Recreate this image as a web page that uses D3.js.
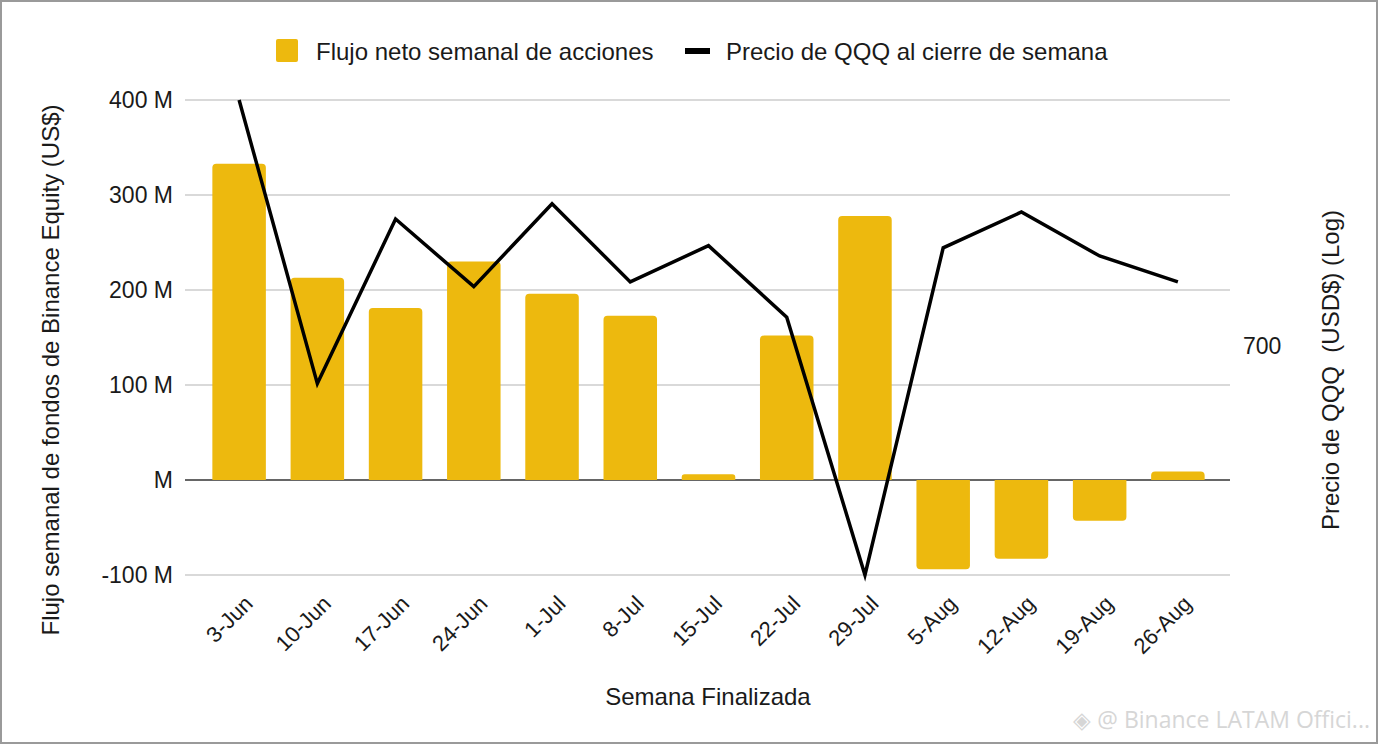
<!DOCTYPE html>
<html>
<head>
<meta charset="utf-8">
<script src="https://cdn.jsdelivr.net/npm/d3@7"></script>
<style>
  body { margin: 0; background: #fff; }
  text { font-family: "Liberation Sans", Arial, sans-serif; fill: #1a1a1a; }
</style>
</head>
<body>
<div id="chart"></div>
<script>
// datos del gráfico
const semanas = ["3-Jun", "10-Jun", "17-Jun", "24-Jun", "1-Jul", "8-Jul", "15-Jul",
                 "22-Jul", "29-Jul", "5-Aug", "12-Aug", "19-Aug", "26-Aug"];
// flujo neto semanal (millones US$)
const flujoNeto = [333, 213, 181, 230, 196, 173, 6, 152, 278, -94, -83, -43, 9];
// precio QQQ al cierre (escala log)
const precioQQQ = [1050, 658, 863, 772, 885, 778, 826, 734, 480, 823, 873, 812, 778];
const ticksIzq = [-100, 0, 100, 200, 300, 400];
const ticksDer = [700];

var W = 1378, H = 744;
var margin = { left: 200, right: 161, top: 100, bottom: 169 };

var svg = d3.select("#chart").append("svg")
  .attr("width", W).attr("height", H);

svg.append("rect")
  .attr("x", 1).attr("y", 1).attr("width", W - 2).attr("height", H - 2)
  .attr("fill", "#fff").attr("stroke", "#9a9a9a").attr("stroke-width", 2);

var x = d3.scaleBand()
  .domain(semanas)
  .range([margin.left, W - margin.right])
  .paddingInner(0.316)
  .paddingOuter(0.158);

var y = d3.scaleLinear()
  .domain([-100, 400])
  .range([H - margin.bottom, margin.top]);

var yLog = d3.scaleLog()
  .domain([480, 1050])
  .range([H - margin.bottom, margin.top]);

var gridX0 = 185, gridX1 = 1230;

// líneas de cuadrícula
svg.append("g").selectAll("line")
  .data(ticksIzq.filter(d => d !== 0))
  .enter().append("line")
  .attr("x1", gridX0).attr("x2", gridX1)
  .attr("y1", d => y(d)).attr("y2", d => y(d))
  .attr("stroke", "#cccccc").attr("stroke-width", 1.5);

// línea cero
svg.append("line")
  .attr("x1", gridX0).attr("x2", gridX1)
  .attr("y1", y(0)).attr("y2", y(0))
  .attr("stroke", "#333").attr("stroke-width", 1.5);

// eje izquierdo
svg.append("g").selectAll("text")
  .data(ticksIzq)
  .enter().append("text")
  .attr("x", 173)
  .attr("y", d => y(d))
  .attr("dy", "0.36em")
  .attr("text-anchor", "end")
  .style("font-size", "23px")
  .text(d => (d === 0 ? "" : d) + " M");

// eje derecho (log)
svg.append("g").selectAll("text")
  .data(ticksDer)
  .enter().append("text")
  .attr("x", 1243)
  .attr("y", d => yLog(d))
  .attr("dy", "0.36em")
  .style("font-size", "23px")
  .text(d => d);

// barras con esquinas redondeadas en el extremo
var r = 4;
function barPath(d, i) {
  var x0 = x(semanas[i]), w = x.bandwidth();
  var y0 = y(0), y1 = y(d);
  var s = y1 < y0 ? 1 : -1;
  var rr = Math.min(r, Math.abs(y0 - y1) / 2);
  return `M${x0},${y0} L${x0},${y1 + s * rr} Q${x0},${y1} ${x0 + rr},${y1}` +
         ` L${x0 + w - rr},${y1} Q${x0 + w},${y1} ${x0 + w},${y1 + s * rr}` +
         ` L${x0 + w},${y0} Z`;
}
svg.append("g").selectAll("path")
  .data(flujoNeto)
  .enter().append("path")
  .attr("d", (d, i) => barPath(d, i))
  .attr("fill", "#EDB90E");

// línea del precio
var line = d3.line()
  .x((d, i) => x(semanas[i]) + x.bandwidth() / 2)
  .y(d => yLog(d));
svg.append("path")
  .datum(precioQQQ)
  .attr("d", line)
  .attr("fill", "none")
  .attr("stroke", "#000")
  .attr("stroke-width", 3.5)
  .attr("stroke-linejoin", "miter");

// etiquetas del eje X
svg.append("g").selectAll("text")
  .data(semanas)
  .enter().append("text")
  .attr("transform", d => `translate(${x(d) + x.bandwidth() / 2 + 15},${605}) rotate(-45)`)
  .attr("text-anchor", "end")
  .style("font-size", "22px")
  .text(d => d);

// títulos de ejes
svg.append("text")
  .attr("x", 708).attr("y", 705)
  .attr("text-anchor", "middle")
  .style("font-size", "24px")
  .text("Semana Finalizada");

svg.append("text")
  .attr("transform", "translate(59,370) rotate(-90)")
  .attr("text-anchor", "middle")
  .style("font-size", "24px")
  .text("Flujo semanal de fondos de Binance Equity (US$)");

svg.append("text")
  .attr("transform", "translate(1339,370) rotate(-90)")
  .attr("text-anchor", "middle")
  .style("font-size", "24px")
  .style("white-space", "pre")
  .text("Precio de QQQ  (USD$) (Log)");

// leyenda
var leg = svg.append("g");
leg.append("rect")
  .attr("x", 276).attr("y", 39).attr("width", 22).attr("height", 23)
  .attr("rx", 2).attr("fill", "#EDB90E");
leg.append("text")
  .attr("x", 316).attr("y", 51).attr("dy", "0.36em")
  .style("font-size", "24px")
  .text("Flujo neto semanal de acciones");
leg.append("rect")
  .attr("x", 685).attr("y", 48).attr("width", 25).attr("height", 6)
  .attr("fill", "#000");
leg.append("text")
  .attr("x", 726).attr("y", 51).attr("dy", "0.36em")
  .style("font-size", "24px")
  .text("Precio de QQQ al cierre de semana");

// marca de agua
svg.append("text")
  .attr("x", 1370).attr("y", 728)
  .attr("text-anchor", "end")
  .style("font-size", "23px")
  .style("fill", "#d6d6d6")
  .style("font-family", "'Open Sans', sans-serif")
  .text("◈ @ Binance LATAM Offici...");
</script>
</body>
</html>
